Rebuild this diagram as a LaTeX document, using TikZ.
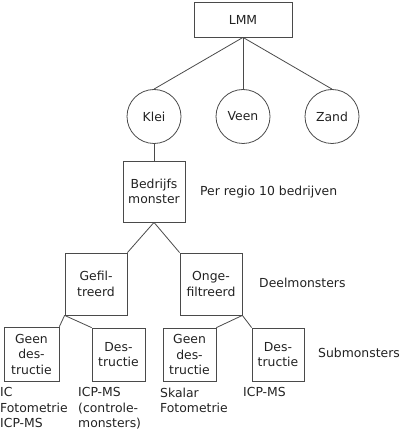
\documentclass[tikz,border=0pt]{standalone}
\usepackage{fontspec}
\setmainfont{DejaVu Sans}
\definecolor{ln}{HTML}{4A4A4A}
\definecolor{tx}{HTML}{222222}
\begin{document}
\begin{tikzpicture}[x=1pt,y=-1pt,
  every node/.style={font=\fontsize{12.4}{15.5}\selectfont, text=tx},
  bx/.style={draw=ln, line width=0.8pt, rectangle, inner sep=0pt, align=center},
  rnd/.style={draw=ln, line width=0.8pt, circle, inner sep=0pt, minimum size=54pt},
  lbl/.style={inner sep=0pt, anchor=base west},
  blk/.style={inner sep=0pt, anchor=north west, align=left},
  conn/.style={draw=ln, line width=0.8pt}]
\useasboundingbox (0,0) rectangle (400,430);
\node[bx, minimum width=98pt, minimum height=35pt] (lmm) at (243,19.5) {LMM};
\node[rnd] (klei) at (154,116.5) {Klei};
\node[rnd] (veen) at (243,116.5) {Veen};
\node[rnd] (zand) at (332,116.5) {Zand};
\node[bx, minimum width=62pt, minimum height=61pt] (bedr) at (154,191.5) {Bedrijfs\\monster};
\node[bx, minimum width=62pt, minimum height=62pt] (gefil) at (96,284) {Gefil-\\treerd};
\node[bx, minimum width=62pt, minimum height=62pt] (onge) at (211,284) {Onge-\\filtreerd};
\node[bx, minimum width=55pt, minimum height=54pt] (geen1) at (31.5,354) {Geen\\des-\\tructie};
\node[bx, minimum width=53pt, minimum height=53pt] (des1) at (118.5,354.5) {Des-\\tructie};
\node[bx, minimum width=53pt, minimum height=53pt] (geen2) at (189.5,354.5) {Geen\\des-\\tructie};
\node[bx, minimum width=52pt, minimum height=53pt] (des2) at (278,354.5) {Des-\\tructie};
\node[lbl] (per) at (200,195.5) {Per regio 10 bedrijven};
\node[lbl] (deel) at (259,287.5) {Deelmonsters};
\node[lbl] (sub) at (318,357.5) {Submonsters};
\node[blk] (t1) at (0,387.5) {IC\\Fotometrie\\ICP-MS};
\node[blk] (t2) at (78,387.5) {ICP-MS\\(controle-\\monsters)};
\node[blk] (t3) at (160,387.5) {Skalar\\Fotometrie};
\node[blk] (t4) at (243,387.5) {ICP-MS};
\draw[conn] (lmm.south) -- (klei.north);
\draw[conn] (lmm.south) -- (veen.north);
\draw[conn] (lmm.south) -- (zand.north);
\draw[conn] (klei.south) -- (bedr.north);
\draw[conn] (bedr.south) -- (gefil.north east);
\draw[conn] (bedr.south) -- (onge.north west);
\draw[conn] (gefil.south west) -- (geen1.north east);
\draw[conn] (gefil.south west) -- (des1.north west);
\draw[conn] (onge.south east) -- (geen2.north east);
\draw[conn] (onge.south east) -- (des2.north west);
\end{tikzpicture}
\end{document}
